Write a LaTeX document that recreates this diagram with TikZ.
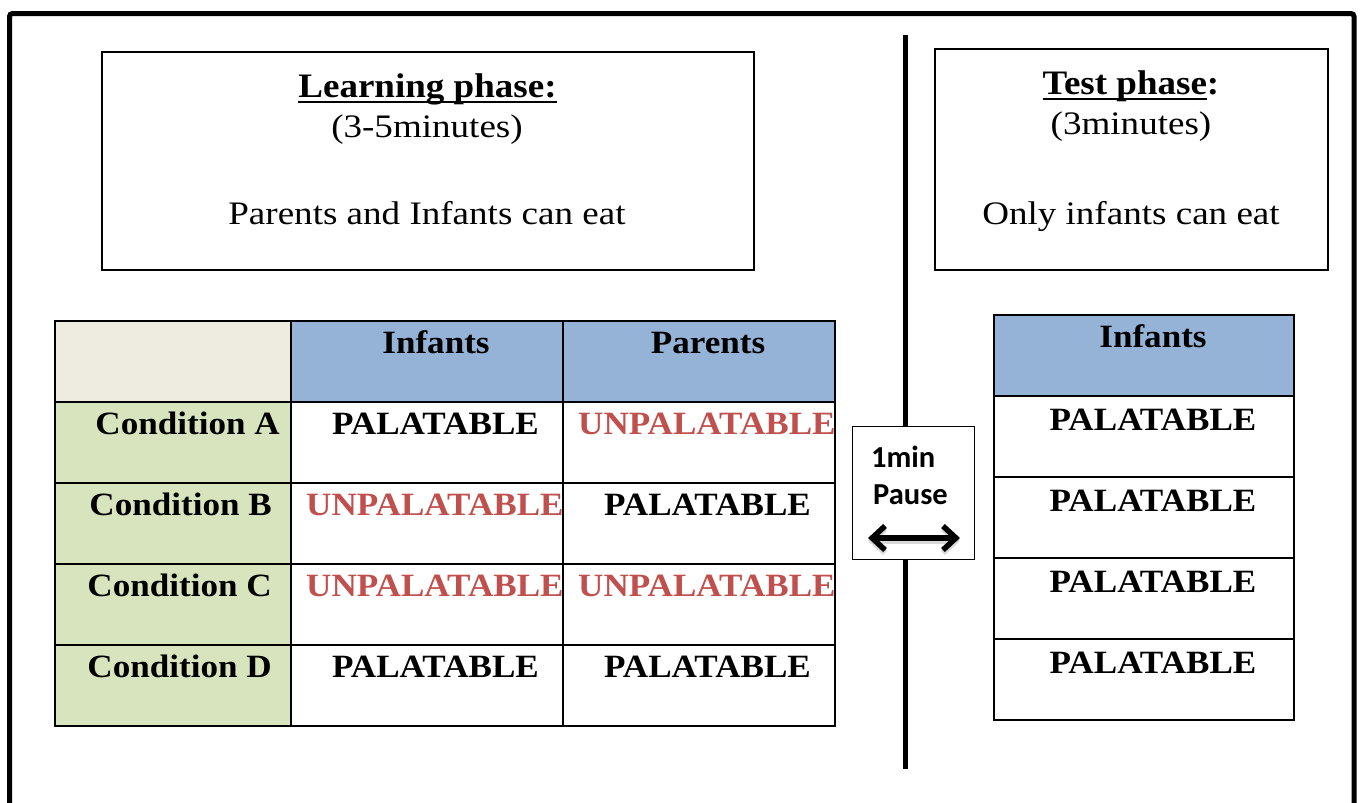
\documentclass[tikz,border=0pt]{standalone}
\usepackage{fontspec}
\setmainfont{Liberation Serif}
\newfontfamily\rgfont{Liberation Serif}[FakeStretch=1.13]
\newfontfamily\ttlfont{Liberation Serif}[FakeStretch=1.08]
\newfontfamily\tblfont{Liberation Serif}[FakeStretch=1.08]
\newfontfamily\pausefont{Carlito}
\usetikzlibrary{arrows.meta}
\definecolor{hdrblue}{HTML}{95B3D7}
\definecolor{hdrbeige}{HTML}{EEECE1}
\definecolor{condgreen}{HTML}{D7E4BD}
\definecolor{unpred}{HTML}{C0504D}
\newcommand\myul[1]{\setbox0=\hbox{#1}\rlap{\rule[-6pt]{\wd0}{2.5pt}}\box0}
\tikzset{
  txt/.style={inner sep=0, anchor=base},
  rgfs/.style={font=\rgfont\fontsize{32.8}{38}\selectfont},
  ttlfs/.style={font=\ttlfont\bfseries\fontsize{34.3}{40}\selectfont},
  tblfs/.style={font=\tblfont\bfseries\fontsize{32.5}{38}\selectfont},
  pausefs/.style={font=\pausefont\bfseries\fontsize{30.5}{34}\selectfont},
  phasebox/.style={draw, line width=1.5, fill=white, anchor=north west, inner sep=0},
  grid/.style={line width=2},
  unp/.style={txt, tblfs, anchor=base west, text=unpred},
  dblarrow/.style={line width=5.5, {Straight Barb[length=13pt,width=24pt]}-{Straight Barb[length=13pt,width=24pt]}}
}
\begin{document}
\begin{tikzpicture}[x=1pt,y=-1pt]
\useasboundingbox (0,0) rectangle (1360,803);
\fill[white] (0,0) rectangle (1360,803);
% outer frame
\draw[line width=5, rounded corners=3] (9.5,803) -- (9.5,13.5) -- (1354,13.5) -- (1354,803);

% phase boxes
\node[phasebox, minimum width=652, minimum height=218] (learnbox) at (101,51) {};
\node[txt, ttlfs] (learntitle) at (427.5,97) {\myul{Learning phase:}};
\node[txt, rgfs] (learndur) at (427,137) {(3-5minutes)};
\node[txt, rgfs] (learnwho) at (427,224) {Parents and Infants can eat};

\node[phasebox, minimum width=393, minimum height=221] (testbox) at (934,48) {};
\node[txt, ttlfs] (testtitle) at (1131,94) {\myul{Test phase}:};
\node[txt, rgfs] (testdur) at (1131,134) {(3minutes)};
\node[txt, rgfs] (testwho) at (1131,224) {Only infants can eat};

% divider
\coordinate (divtop) at (905.5,35);
\coordinate (divbot) at (905.5,769);
\draw[line width=5] (divtop) -- (divbot);

% left table fills
\fill[hdrbeige] (55,321) rectangle (291,402);
\fill[hdrblue] (291,321) rectangle (835,402);
\fill[condgreen] (55,402) rectangle (291,726);

% left table text
\node[txt, tblfs] (lhinf) at (436,353) {Infants};
\node[txt, tblfs] (lhpar) at (708,353) {Parents};
\node[txt, tblfs, anchor=base east] (conda) at (280,434) {Condition A};
\node[txt, tblfs, anchor=base east] (condb) at (272,515) {Condition B};
\node[txt, tblfs, anchor=base east] (condc) at (272,596) {Condition C};
\node[txt, tblfs, anchor=base east] (condd) at (272,677) {Condition D};
\node[txt, tblfs] (a1) at (435.5,434) {PALATABLE};
\node[txt, tblfs] (b2) at (707.5,515) {PALATABLE};
\node[txt, tblfs] (d1) at (435.5,677) {PALATABLE};
\node[txt, tblfs] (d2) at (707.5,677) {PALATABLE};
\begin{scope}
  \clip (291,402) rectangle (563,645);
  \node[unp] (b1) at (306,515) {UNPALATABLE};
  \node[unp] (c1) at (306,596) {UNPALATABLE};
\end{scope}
\begin{scope}
  \clip (563,402) rectangle (835,645);
  \node[unp] (a2) at (578,434) {UNPALATABLE};
  \node[unp] (c2) at (578,596) {UNPALATABLE};
\end{scope}

% left table grid
\foreach \yy in {321,402,483,564,645,726} \draw[grid] (54,\yy) -- (836,\yy);
\foreach \xx in {55,291,563,835} \draw[grid] (\xx,321) -- (\xx,726);

% right table
\fill[hdrblue] (994,315) rectangle (1294,396);
\node[txt, tblfs] (rhinf) at (1153,347) {Infants};
\node[txt, tblfs] (r1) at (1153,430) {PALATABLE};
\node[txt, tblfs] (r2) at (1153,511) {PALATABLE};
\node[txt, tblfs] (r3) at (1153,592) {PALATABLE};
\node[txt, tblfs] (r4) at (1153,673) {PALATABLE};
\foreach \yy in {315,396,477,558,639,720} \draw[grid] (993,\yy) -- (1295,\yy);
\foreach \xx in {994,1294} \draw[grid] (\xx,315) -- (\xx,720);

% pause box
\node[phasebox, line width=1.2, minimum width=122, minimum height=133] (pausebox) at (852,426) {};
\node[txt, pausefs, anchor=base west] (pause1) at (871,467) {1min};
\node[txt, pausefs, anchor=base west] (pause2) at (873,504) {Pause};
\coordinate (arrL) at (868,538);
\coordinate (arrR) at (960,538);
\draw[dblarrow, gray!30] ([yshift=-3pt]arrL) -- ([yshift=-3pt]arrR);
\draw[dblarrow] (arrL) -- (arrR);
\end{tikzpicture}
\end{document}
